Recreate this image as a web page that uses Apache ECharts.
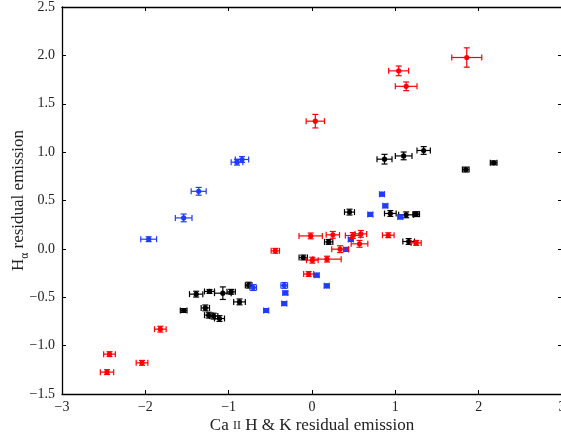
<!DOCTYPE html>
<html>
<head>
<meta charset="utf-8">
<script src="https://cdn.jsdelivr.net/npm/echarts@6/dist/echarts.min.js"></script>
<style>html,body{margin:0;padding:0;background:#fff;}#c{width:561px;height:439px;}</style>
</head>
<body>
<div id="c"></div>
<script>
// Black group
const blackX    = [0.87, 1.10, 1.34, 1.845, 2.18, 0.94, 1.13, 1.25, 1.16, 0.45, 0.20, -0.105, -1.54, -1.39, -1.23, -1.07, -0.97, -0.87, -0.76, -1.28, -1.24, -1.18, -1.11];
const blackY    = [0.927, 0.961, 1.017, 0.82, 0.889, 0.366, 0.352, 0.359, 0.076, 0.38, 0.072, -0.089, -0.637, -0.468, -0.44, -0.458, -0.444, -0.548, -0.375, -0.61, -0.685, -0.695, -0.72];
const blackXErr = [0.09, 0.10, 0.08, 0.04, 0.04, 0.07, 0.09, 0.04, 0.07, 0.06, 0.05, 0.05, 0.04, 0.08, 0.06, 0.10, 0.05, 0.07, 0.04, 0.05, 0.05, 0.05, 0.06];
const blackYErr = [0.05, 0.04, 0.04, 0.025, 0.02, 0.03, 0.03, 0.025, 0.03, 0.03, 0.025, 0.025, 0.02, 0.03, 0.02, 0.065, 0.025, 0.03, 0.03, 0.03, 0.03, 0.03, 0.03];

// Red group
const redX    = [1.857, 1.04, 1.13, 0.04, -2.43, -2.46, -2.04, -1.82, -0.44, -0.016, 0.25, 0.49, 0.586, 0.915, 0.57, 0.337, 0.004, 0.18, -0.04, 1.25];
const redY    = [1.978, 1.84, 1.68, 1.32, -1.088, -1.274, -1.178, -0.83, -0.02, 0.134, 0.145, 0.138, 0.155, 0.141, 0.052, -0.003, -0.117, -0.106, -0.26, 0.062];
const redXErr = [0.18, 0.12, 0.13, 0.11, 0.07, 0.08, 0.07, 0.07, 0.05, 0.14, 0.08, 0.09, 0.07, 0.07, 0.10, 0.10, 0.07, 0.17, 0.06, 0.06];
const redYErr = [0.10, 0.05, 0.045, 0.07, 0.025, 0.025, 0.025, 0.03, 0.025, 0.03, 0.035, 0.03, 0.035, 0.025, 0.035, 0.035, 0.03, 0.03, 0.025, 0.025];

// Blue group
const blueX    = [-1.96, -1.54, -1.36, -0.90, -0.84, 0.70, 0.84, 0.88, 1.06, 0.466, 0.41, 0.056, 0.177, -0.333, -0.706, -0.32, -0.333, -0.55];
const blueY    = [0.10, 0.32, 0.595, 0.896, 0.924, 0.356, 0.565, 0.445, 0.33, 0.097, -0.006, -0.272, -0.382, -0.378, -0.40, -0.455, -0.565, -0.637];
const blueXErr = [0.095, 0.10, 0.09, 0.07, 0.08, 0.03, 0.03, 0.03, 0.03, 0.03, 0.03, 0.03, 0.03, 0.04, 0.04, 0.03, 0.03, 0.03];
const blueYErr = [0.025, 0.04, 0.04, 0.03, 0.03, 0.02, 0.02, 0.02, 0.02, 0.02, 0.02, 0.02, 0.02, 0.03, 0.03, 0.02, 0.02, 0.02];

const xTicks = [-3, -2, -1, 0, 1, 2, 3];
const yTicks = [-1.5, -1.0, -0.5, 0.0, 0.5, 1.0, 1.5, 2.0, 2.5];

function rows(xs, ys, xe, ye) {
  return xs.map((x, i) => [x, ys[i], xe[i], ye[i]]);
}

function makeRender(color) {
  return function (params, api) {
    const x = api.value(0), y = api.value(1), xe = api.value(2), ye = api.value(3);
    const p = api.coord([x, y]);
    const l = api.coord([x - xe, y]);
    const r = api.coord([x + xe, y]);
    const t = api.coord([x, y + ye]);
    const b = api.coord([x, y - ye]);
    const c = 3;
    const st = { stroke: color, lineWidth: 1.2 };
    const line = (x1, y1, x2, y2) => ({ type: 'line', shape: { x1, y1, x2, y2 }, style: st });
    return {
      type: 'group',
      children: [
        line(l[0], l[1], r[0], r[1]),
        line(t[0], t[1], b[0], b[1]),
        line(l[0], l[1] - c, l[0], l[1] + c),
        line(r[0], r[1] - c, r[0], r[1] + c),
        line(t[0] - c, t[1], t[0] + c, t[1]),
        line(b[0] - c, b[1], b[0] + c, b[1]),
        { type: 'circle', shape: { cx: p[0], cy: p[1], r: 2.6 }, style: { fill: color } }
      ]
    };
  };
}

const fontFam = 'Liberation Serif';
const minus = s => String(s).replace('-', '\u2212');

const chart = echarts.init(document.getElementById('c'), null, { renderer: 'canvas' });
const axisLine = { show: true, onZero: false, lineStyle: { color: '#000', width: 1.3 } };
const tick = { show: true, inside: true, length: 4, lineStyle: { color: '#000', width: 1 } };
chart.setOption({
  animation: false,
  backgroundColor: '#fff',
  grid: { left: 62, top: 7, width: 500, height: 387, containLabel: false, outerBoundsMode: 'none' },
  xAxis: [
    {
      type: 'value', min: xTicks[0], max: xTicks[xTicks.length - 1], interval: 1,
      position: 'bottom',
      axisLine: axisLine, axisTick: tick,
      splitLine: { show: false },
      axisLabel: { margin: 6, color: '#222', fontFamily: fontFam, fontSize: 14, formatter: v => minus(v), hideOverlap: false },
      name: '{n|Ca }{s|II}{n| H & K residual emission}',
      nameLocation: 'middle', nameGap: 23, nameMoveOverlap: false,
      nameTextStyle: {
        color: '#222', fontFamily: fontFam, fontSize: 17,
        rich: {
          n: { fontFamily: fontFam, fontSize: 17, color: '#222' },
          s: { fontFamily: fontFam, fontSize: 12, color: '#222' }
        }
      }
    },
    {
      type: 'value', min: xTicks[0], max: xTicks[xTicks.length - 1], interval: 1,
      position: 'top',
      axisLine: axisLine, axisTick: tick,
      splitLine: { show: false },
      axisLabel: { show: false }
    }
  ],
  yAxis: [
    {
      type: 'value', min: yTicks[0], max: yTicks[yTicks.length - 1], interval: 0.5,
      position: 'left',
      axisLine: axisLine, axisTick: tick,
      splitLine: { show: false },
      axisLabel: { margin: 7, color: '#222', fontFamily: fontFam, fontSize: 14, formatter: v => minus(v.toFixed(1)) },
      name: '{n|H}{s|\u03b1}{n| residual emission}',
      nameLocation: 'middle', nameGap: 35, nameRotate: 90, nameMoveOverlap: false,
      nameTextStyle: {
        color: '#222', fontFamily: fontFam, fontSize: 17,
        rich: {
          n: { fontFamily: fontFam, fontSize: 17, color: '#222', verticalAlign: 'bottom', lineHeight: 19 },
          s: { fontFamily: fontFam, fontSize: 11.5, color: '#222', verticalAlign: 'bottom', lineHeight: 12, padding: [0, 0, -4, 0] }
        }
      }
    },
    {
      type: 'value', min: yTicks[0], max: yTicks[yTicks.length - 1], interval: 0.5,
      position: 'right',
      axisLine: axisLine, axisTick: tick,
      splitLine: { show: false },
      axisLabel: { show: false }
    }
  ],
  series: [
    { type: 'custom', name: 'black', xAxisIndex: 0, yAxisIndex: 0, renderItem: makeRender('#000000'), data: rows(blackX, blackY, blackXErr, blackYErr), clip: false },
    { type: 'custom', name: 'blue', xAxisIndex: 0, yAxisIndex: 0, renderItem: makeRender('#1e3cff'), data: rows(blueX, blueY, blueXErr, blueYErr), clip: false },
    { type: 'custom', name: 'red', xAxisIndex: 0, yAxisIndex: 0, renderItem: makeRender('#ff0000'), data: rows(redX, redY, redXErr, redYErr), clip: false }
  ]
});
</script>
</body>
</html>
